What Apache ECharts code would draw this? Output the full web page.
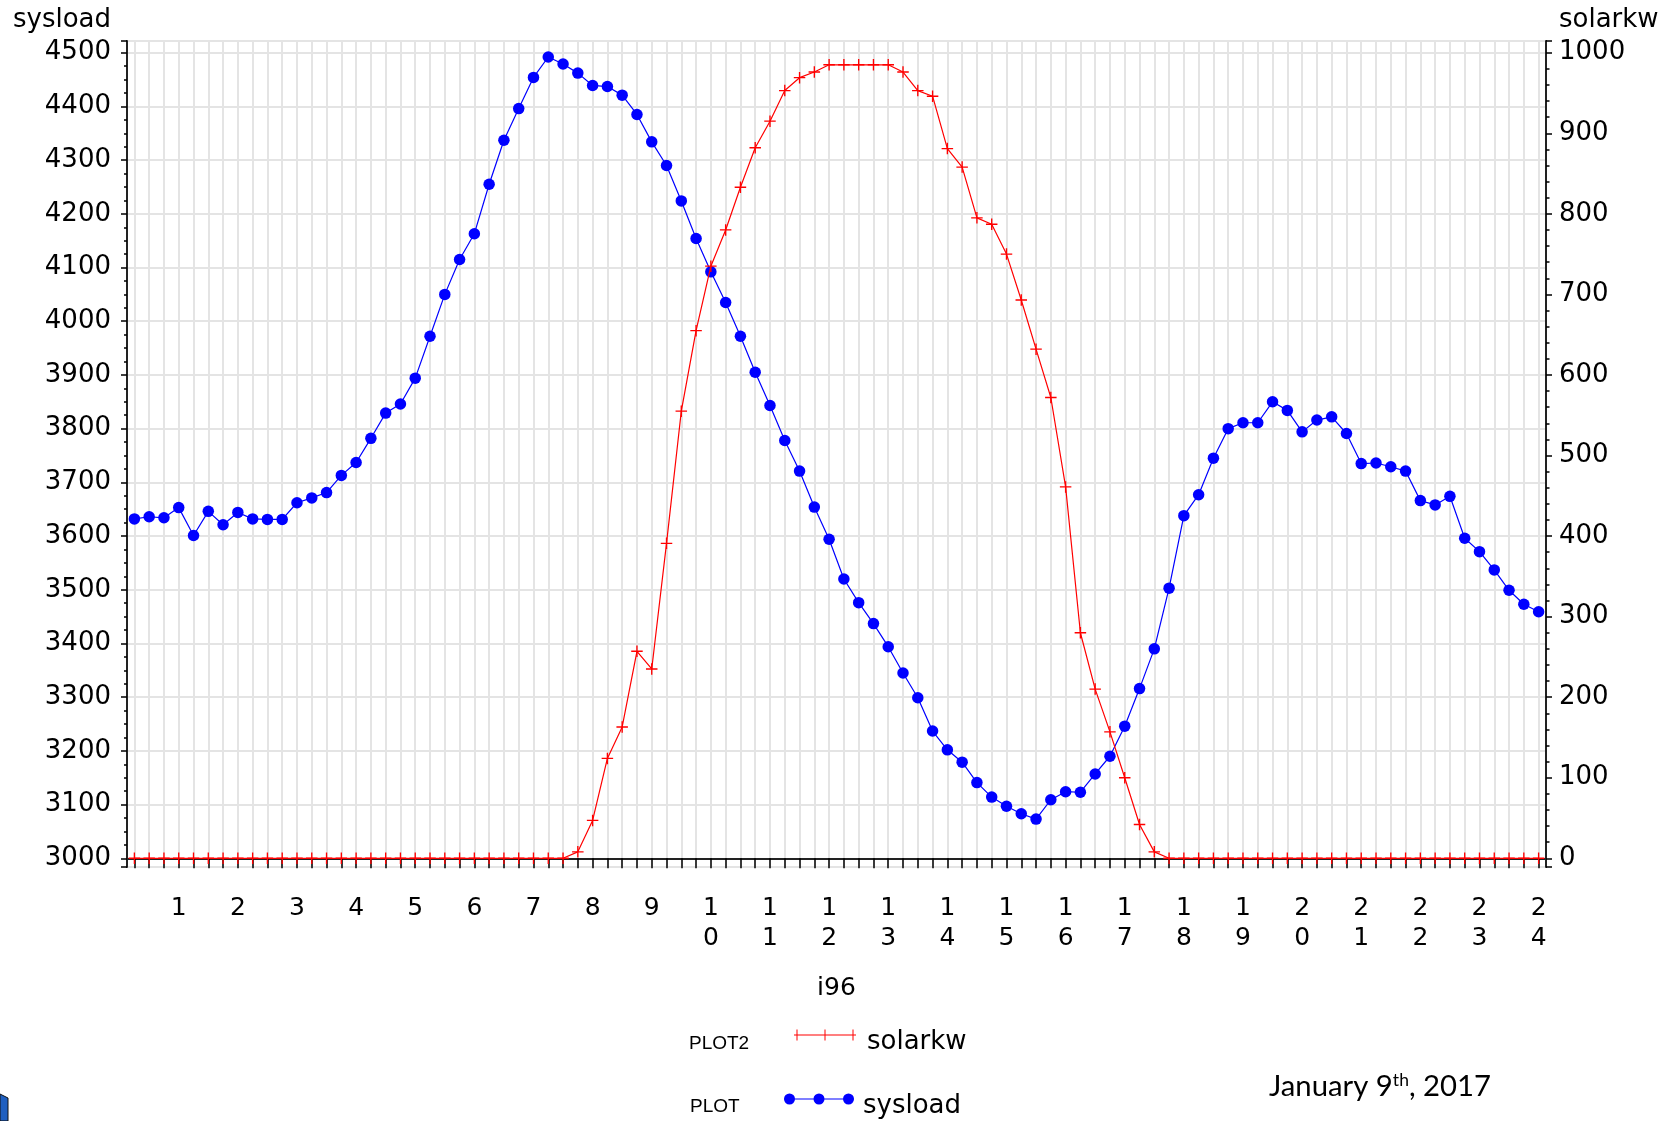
<!DOCTYPE html>
<html>
<head>
<meta charset="utf-8">
<script src="https://cdn.jsdelivr.net/npm/echarts@6/dist/echarts.min.js"></script>
<style>
html,body{margin:0;padding:0;background:#fff;}
#chart{width:1672px;height:1121px;}
</style>
</head>
<body>
<div id="chart"></div>
<script>
// i96: quarter-hour index of the day
const i96 = [1,2,3,4,5,6,7,8,9,10,11,12,13,14,15,16,17,18,19,20,21,22,23,24,25,26,27,28,29,30,31,32,
  33,34,35,36,37,38,39,40,41,42,43,44,45,46,47,48,49,50,51,52,53,54,55,56,57,58,59,60,61,62,63,64,
  65,66,67,68,69,70,71,72,73,74,75,76,77,78,79,80,81,82,83,84,85,86,87,88,89,90,91,92,93,94,95,96];

const sysload = [3632,3636,3634,3653,3601,3646,3621,3644,3632,3631,3631,3662,3671,3681,3713,3737,
  3782,3829,3846,3894,3972,4050,4115,4163,4255,4337,4396,4454,4492,4479,4462,4439,
  4437,4421,4385,4334,4290,4224,4154,4092,4035,3972,3905,3843,3778,3721,3654,3594,
  3520,3476,3437,3394,3345,3299,3237,3202,3179,3141,3114,3097,3083,3073,3109,3124,
  3123,3157,3190,3246,3316,3390,3503,3638,3677,3745,3800,3811,3811,3850,3834,3794,
  3816,3822,3791,3735,3736,3729,3721,3666,3658,3674,3596,3571,3537,3499,3473,3459];

const solarkw = [0,0,0,0,0,0,0,0,0,0,0,0,0,0,0,0,
  0,0,0,0,0,0,0,0,0,0,0,0,0,0,8,47,
  124,163,257,235,391,555,655,735,780,833,882,915,953,969,976,985,
  985,985,985,985,976,953,946,881,858,795,787,750,693,632,572,461,
  280,210,157,100,42,8,0,0,0,0,0,0,0,0,0,0,
  0,0,0,0,0,0,0,0,0,0,0,0,0,0,0,0];

const legendRows = ['PLOT2', 'PLOT'];
const dateNote = 'January 9{sup|th}, 2017';

const leftRange = [2983.8, 4521.8];
const rightRange = [-10.8, 1014.53];

const FONT = 'DejaVu Sans';
const plusPath = 'path://M4.85,0 H6.15 V4.85 H11 V6.15 H6.15 V11 H4.85 V6.15 H0 V4.85 H4.85 Z';
const plusLegend = 'path://M0,5 H62 V6 H0 Z M2.5,0 H3.5 V11 H2.5 Z M30.5,0 H31.5 V11 H30.5 Z M58.5,0 H59.5 V11 H58.5 Z';
const dotLegend = 'path://M0,5 H70 V6 H0 Z M0,5.5 A5.5,5.5 0 1 1 11,5.5 A5.5,5.5 0 1 1 0,5.5 Z M29.5,5.5 A5.5,5.5 0 1 1 40.5,5.5 A5.5,5.5 0 1 1 29.5,5.5 Z M59,5.5 A5.5,5.5 0 1 1 70,5.5 A5.5,5.5 0 1 1 59,5.5 Z';

const chart = echarts.init(document.getElementById('chart'), null, {renderer: 'canvas'});

function isMult(v, m) { const r = Math.abs(v % m); return r < 1e-6 || Math.abs(r - m) < 1e-6; }

const legendRich = {t: {fontSize: 26, lineHeight: 30, color: '#000', fontFamily: FONT, padding: [14, 0, 0, 6]}};
const legendRich2 = {t: {fontSize: 26, lineHeight: 30, color: '#000', fontFamily: FONT, padding: [14, 0, 0, 4]}};

const option = {
  animation: false,
  backgroundColor: '#fff',
  textStyle: {fontFamily: FONT, color: '#000'},
  grid: {left: 127, right: 126, top: 41, bottom: 254, show: true, borderColor: '#222', borderWidth: 2, backgroundColor: 'transparent'},
  xAxis: {
    type: 'category',
    data: i96,
    boundaryGap: true,
    name: 'i96',
    nameLocation: 'middle',
    nameGap: 109,
    nameTextStyle: {fontSize: 25, color: '#000', fontFamily: FONT},
    axisLine: {show: true, lineStyle: {color: '#222', width: 2}},
    axisTick: {show: true, alignWithLabel: true, interval: 0, length: 10, lineStyle: {color: '#000', width: 1.5}},
    axisLabel: {
      interval: function (idx) { return (idx + 1) % 4 === 0; },
      formatter: function (val) { return String(Number(val) / 4).split('').join('\n'); },
      fontSize: 25, lineHeight: 30.5, margin: 26, color: '#000', fontFamily: FONT
    },
    splitLine: {show: true, alignWithLabel: true, interval: 0, lineStyle: {color: '#e4e4e4', width: 2}}
  },
  yAxis: [
    {
      type: 'value', position: 'left', min: leftRange[0], max: leftRange[1],
      splitNumber: 15, minInterval: 100, maxInterval: 100,
      name: 'sysload', nameLocation: 'end', nameGap: 8,
      nameTextStyle: {fontSize: 26, color: '#000', align: 'right', padding: [0, 16, 0, 0], fontFamily: FONT},
      axisLine: {show: true, lineStyle: {color: '#222', width: 2}},
      axisTick: {show: true, length: 6, lineStyle: {color: '#000', width: 1.5}},
      axisLabel: {formatter: function (v) { return isMult(v, 100) ? String(Math.round(v)) : ''; }, fontSize: 26, margin: 16, color: '#000', fontFamily: FONT},
      splitLine: {show: true, lineStyle: {color: '#e4e4e4', width: 2}}
    },
    {
      type: 'value', position: 'left', min: leftRange[0], max: leftRange[1],
      splitNumber: 60, minInterval: 25, maxInterval: 25,
      axisLine: {show: false}, axisLabel: {show: false}, splitLine: {show: false},
      axisTick: {show: true, length: 3, lineStyle: {color: '#000', width: 1.5}}
    },
    {
      type: 'value', position: 'right', min: rightRange[0], max: rightRange[1],
      splitNumber: 10, minInterval: 100, maxInterval: 100,
      name: 'solarkw', nameLocation: 'end', nameGap: 8,
      nameTextStyle: {fontSize: 26, color: '#000', align: 'left', padding: [0, 0, 0, 13], fontFamily: FONT},
      axisLine: {show: true, lineStyle: {color: '#222', width: 2}},
      axisTick: {show: true, length: 6, lineStyle: {color: '#000', width: 1.5}},
      axisLabel: {formatter: function (v) { return isMult(v, 100) ? String(Math.round(v)) : ''; }, fontSize: 26, margin: 13, color: '#000', fontFamily: FONT},
      splitLine: {show: false}
    },
    {
      type: 'value', position: 'right', min: rightRange[0], max: rightRange[1],
      splitNumber: 50, minInterval: 20, maxInterval: 20,
      axisLine: {show: false}, axisLabel: {show: false}, splitLine: {show: false},
      axisTick: {show: true, length: 3.5, lineStyle: {color: '#000', width: 1.5}}
    }
  ],
  legend: [
    {
      data: [{name: 'solarkw', icon: plusLegend}],
      orient: 'vertical', left: 794, top: 1015, padding: 0,
      itemWidth: 62, itemHeight: 11, itemGap: 5, symbolKeepAspect: false,
      formatter: '{t|{name}}',
      textStyle: {fontSize: 26, lineHeight: 30, color: '#000', fontFamily: FONT, rich: legendRich},
      selectedMode: false
    },
    {
      data: [{name: 'sysload', icon: dotLegend}],
      orient: 'vertical', left: 784, top: 1079, padding: 0,
      itemWidth: 70, itemHeight: 11, itemGap: 5, symbolKeepAspect: false,
      formatter: '{t|{name}}',
      textStyle: {fontSize: 26, lineHeight: 30, color: '#000', fontFamily: FONT, rich: legendRich2},
      selectedMode: false
    }
  ],
  graphic: [
    {type: 'text', left: 689, top: 1034, style: {text: legendRows[0], fontSize: 19, fontFamily: 'Liberation Sans', fill: '#000'}},
    {type: 'text', left: 690, top: 1097, style: {text: legendRows[1], fontSize: 19, fontFamily: 'Liberation Sans', fill: '#000'}},
    {type: 'text', left: 1269, top: 1071, style: {
      text: dateNote, fontSize: 29.3, fontFamily: 'Lato', fill: '#000',
      rich: {sup: {fontSize: 17.5, fontFamily: 'Lato', verticalAlign: 'top', padding: [0, 0, 14, 0], fill: '#000'}}
    }},
    {type: 'polygon', shape: {points: [[0, 1094], [8, 1098], [8, 1121], [0, 1121]]}, style: {fill: '#1f5fc0', stroke: '#111', lineWidth: 1}}
  ],
  series: [
    {
      name: 'sysload', type: 'line', data: sysload, yAxisIndex: 0,
      symbol: 'circle', symbolSize: 11.5, showAllSymbol: true,
      itemStyle: {color: '#0000ff', borderWidth: 0},
      lineStyle: {color: '#0000ff', width: 1.2},
      emphasis: {disabled: true}, z: 3
    },
    {
      name: 'solarkw', type: 'line', data: solarkw, yAxisIndex: 2,
      symbol: plusPath, symbolSize: 11.5, showAllSymbol: true,
      itemStyle: {color: '#ff0000', borderWidth: 0},
      lineStyle: {color: '#ff0000', width: 1.2},
      emphasis: {disabled: true}, z: 4
    }
  ]
};
chart.setOption(option);
</script>
</body>
</html>
